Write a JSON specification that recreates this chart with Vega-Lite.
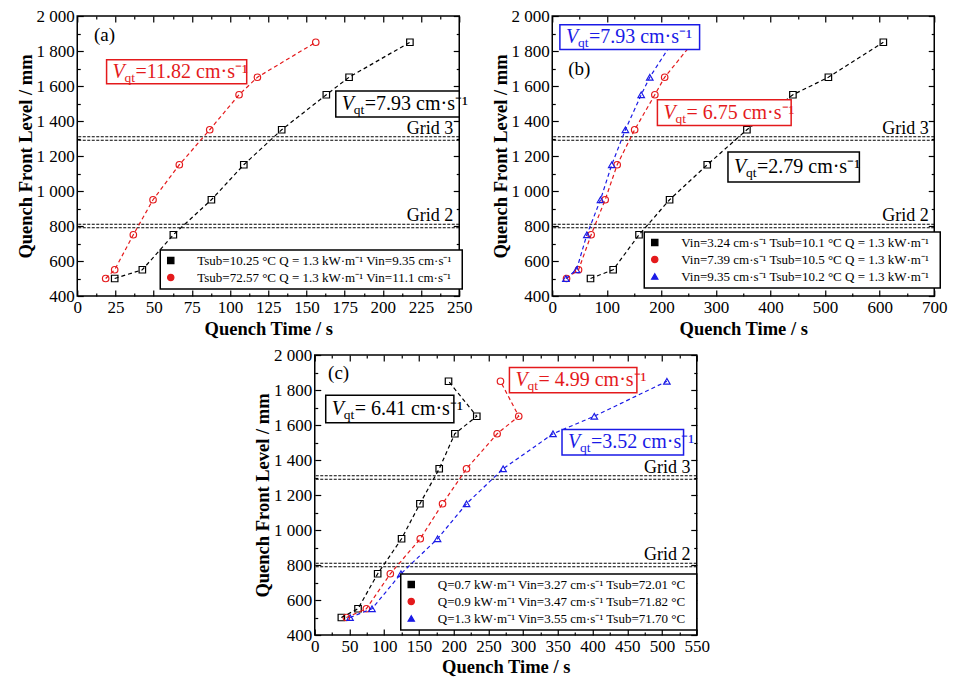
{
  "$schema": "https://vega.github.io/schema/vega-lite/v6.json",
  "background": "white",
  "padding": {"left": 15, "top": 6, "right": 2, "bottom": 2},
  "datasets": {
    "grids": [{"z": 790}, {"z": 810}, {"z": 1290}, {"z": 1310}],
    "sa": [
      {"s": "black", "t": 24.5, "z": 500}, {"s": "black", "t": 42.6, "z": 550}, {"s": "black", "t": 62.9, "z": 750},
      {"s": "black", "t": 87.8, "z": 950}, {"s": "black", "t": 109, "z": 1150}, {"s": "black", "t": 133.8, "z": 1350},
      {"s": "black", "t": 163, "z": 1550}, {"s": "black", "t": 177.9, "z": 1650}, {"s": "black", "t": 217.7, "z": 1850},
      {"s": "red", "t": 18.6, "z": 500}, {"s": "red", "t": 24.5, "z": 550}, {"s": "red", "t": 36.7, "z": 750},
      {"s": "red", "t": 49.6, "z": 950}, {"s": "red", "t": 66.8, "z": 1150}, {"s": "red", "t": 86.7, "z": 1350},
      {"s": "red", "t": 105.9, "z": 1550}, {"s": "red", "t": 117.9, "z": 1650}, {"s": "red", "t": 156.1, "z": 1850}
    ],
    "sb": [
      {"s": "black", "t": 70.1, "z": 500}, {"s": "black", "t": 111.6, "z": 550}, {"s": "black", "t": 159, "z": 750},
      {"s": "black", "t": 215, "z": 950}, {"s": "black", "t": 284, "z": 1150}, {"s": "black", "t": 356.7, "z": 1350},
      {"s": "black", "t": 441, "z": 1550}, {"s": "black", "t": 506, "z": 1650}, {"s": "black", "t": 606.7, "z": 1850},
      {"s": "red", "t": 26.2, "z": 500}, {"s": "red", "t": 48.2, "z": 550}, {"s": "red", "t": 71.3, "z": 750},
      {"s": "red", "t": 97, "z": 950}, {"s": "red", "t": 119, "z": 1150}, {"s": "red", "t": 151, "z": 1350},
      {"s": "red", "t": 188, "z": 1550}, {"s": "red", "t": 206, "z": 1650}, {"s": "red", "t": 258, "z": 1850},
      {"s": "blue", "t": 25, "z": 500}, {"s": "blue", "t": 44.5, "z": 550}, {"s": "blue", "t": 63.4, "z": 750},
      {"s": "blue", "t": 88.4, "z": 950}, {"s": "blue", "t": 109, "z": 1150}, {"s": "blue", "t": 134, "z": 1350},
      {"s": "blue", "t": 163, "z": 1550}, {"s": "blue", "t": 178.7, "z": 1650}, {"s": "blue", "t": 220, "z": 1850}
    ],
    "sc": [
      {"s": "black", "t": 38.3, "z": 500}, {"s": "black", "t": 62.3, "z": 550}, {"s": "black", "t": 90.6, "z": 750},
      {"s": "black", "t": 125, "z": 950}, {"s": "black", "t": 151.4, "z": 1150}, {"s": "black", "t": 179.2, "z": 1350},
      {"s": "black", "t": 201.7, "z": 1550}, {"s": "black", "t": 233.3, "z": 1650}, {"s": "black", "t": 192.6, "z": 1850},
      {"s": "red", "t": 45.5, "z": 500}, {"s": "red", "t": 74.3, "z": 550}, {"s": "red", "t": 108.8, "z": 750},
      {"s": "red", "t": 151.9, "z": 950}, {"s": "red", "t": 184, "z": 1150}, {"s": "red", "t": 218.5, "z": 1350},
      {"s": "red", "t": 262.6, "z": 1550}, {"s": "red", "t": 293.7, "z": 1650}, {"s": "red", "t": 267.4, "z": 1850},
      {"s": "blue", "t": 50.8, "z": 500}, {"s": "blue", "t": 82.4, "z": 550}, {"s": "blue", "t": 124.1, "z": 750},
      {"s": "blue", "t": 176.8, "z": 950}, {"s": "blue", "t": 218.5, "z": 1150}, {"s": "blue", "t": 271.2, "z": 1350},
      {"s": "blue", "t": 343, "z": 1550}, {"s": "blue", "t": 402.5, "z": 1650}, {"s": "blue", "t": 507, "z": 1850}
    ],
    "ann": [
      {"p": "a", "s": "red", "x1": 19.2, "x2": 110.9, "y1": 1613, "y2": 1750, "ty": 1682, "label": "=11.82 cm·s⁻¹"},
      {"p": "a", "s": "black", "x1": 169.2, "x2": 250, "y1": 1423, "y2": 1571, "ty": 1497, "label": "=7.93 cm·s⁻¹"},
      {"p": "b", "s": "blue", "x1": 14, "x2": 270, "y1": 1808, "y2": 1950, "ty": 1879, "label": "=7.93 cm·s⁻¹"},
      {"p": "b", "s": "red", "x1": 192.7, "x2": 437.8, "y1": 1375, "y2": 1522, "ty": 1448, "label": "= 6.75 cm·s⁻¹"},
      {"p": "b", "s": "black", "x1": 322, "x2": 562.8, "y1": 1051, "y2": 1223, "ty": 1137, "label": "=2.79 cm·s⁻¹"},
      {"p": "c", "s": "black", "x1": 15.8, "x2": 200.3, "y1": 1613, "y2": 1770, "ty": 1691, "label": "= 6.41 cm·s⁻¹"},
      {"p": "c", "s": "red", "x1": 280.3, "x2": 463.8, "y1": 1785, "y2": 1928, "ty": 1856, "label": "= 4.99 cm·s⁻¹"},
      {"p": "c", "s": "blue", "x1": 356, "x2": 531, "y1": 1429, "y2": 1575, "ty": 1502, "label": "=3.52 cm·s⁻¹"}
    ],
    "lab": [
      {"p": "a", "k": "grid", "x": 246, "y": 1326, "label": "Grid 3"},
      {"p": "a", "k": "grid", "x": 246, "y": 828, "label": "Grid 2"},
      {"p": "a", "k": "panel", "x": 10.9, "y": 1890, "label": "(a)"},
      {"p": "b", "k": "grid", "x": 690, "y": 1326, "label": "Grid 3"},
      {"p": "b", "k": "grid", "x": 690, "y": 828, "label": "Grid 2"},
      {"p": "b", "k": "panel", "x": 29.3, "y": 1699, "label": "(b)"},
      {"p": "c", "k": "grid", "x": 541, "y": 1326, "label": "Grid 3"},
      {"p": "c", "k": "grid", "x": 541, "y": 828, "label": "Grid 2"},
      {"p": "c", "k": "panel", "x": 19.2, "y": 1899, "label": "(c)"}
    ]
  },
  "resolve": {"scale": {"color": "independent", "shape": "independent", "stroke": "independent", "fill": "independent"}, "legend": {"color": "independent", "shape": "independent"}},
  "vconcat": [
    {
      "resolve": {"scale": {"color": "independent", "shape": "independent", "stroke": "independent", "fill": "independent"}, "legend": {"color": "independent", "shape": "independent"}},
      "hconcat": [
        {
          "width": 382, "height": 280,
          "resolve": {"axis": {"x": "independent", "y": "independent"}},
          "layer": [
            {"data": {"name": "grids"}, "mark": {"type": "rule", "color": "black", "strokeWidth": 1, "strokeDash": [3, 1.5]},
             "encoding": {"y": {"field": "z", "type": "quantitative", "scale": {"domain": [400, 2000], "nice": false, "zero": false}, "axis": null}}},
            {"data": {"name": "sa"}, "mark": {"type": "point", "filled": false, "size": 42, "strokeWidth": 1.2, "opacity": 1},
             "encoding": {
               "x": {"field": "t", "type": "quantitative", "scale": {"domain": [0, 250], "nice": false, "zero": false}, "axis": {"title": "Quench Time / s", "values": [0,12.5,25,37.5,50,62.5,75,87.5,100,112.5,125,137.5,150,162.5,175,187.5,200,212.5,225,237.5,250], "labelExpr": "datum.value % 25 === 0 ? format(datum.value, 'd') : ''", "tickSize": {"condition": {"test": "datum.value % 25 === 0", "value": -6}, "value": -3}}},
               "y": {"field": "z", "type": "quantitative", "axis": {"title": "Quench Front Level / mm", "values": [400,500,600,700,800,900,1000,1100,1200,1300,1400,1500,1600,1700,1800,1900,2000], "labelExpr": "datum.value % 200 === 0 ? replace(format(datum.value, ','), ',', ' ') : ''", "tickSize": {"condition": {"test": "datum.value % 200 === 0", "value": -6}, "value": -3}}},
               "color": {"field": "s", "type": "nominal", "scale": {"domain": ["black", "red"], "range": ["#000000", "#e41a1c"]}, "legend": {"title": null, "orient": "none", "legendX": 83, "legendY": 234, "direction": "vertical", "labelOffset": 20, "labelExpr": "datum.label === 'black' ? 'Tsub=10.25 °C  Q = 1.3 kW·m⁻¹  Vin=9.35 cm·s⁻¹' : 'Tsub=72.57 °C  Q = 1.3 kW·m⁻¹  Vin=11.1 cm·s⁻¹'", "encode": {"symbols": {"fill": {"value": "white"}, "strokeWidth": {"value": 1.2}, "stroke": {"signal": "datum.value === 'red' ? '#e41a1c' : datum.value === 'blue' ? '#1a1ae6' : '#000000'"}, "shape": {"signal": "datum.value === 'black' ? 'M-1,0H0.2M1,-1H3V1H1ZM3.8,0H5M5.8,0H6.2' : datum.value === 'red' ? 'M-1,0H0.2M1,0A1,1,0,1,1,3,0A1,1,0,1,1,1,0ZM3.8,0H5M5.8,0H6.2' : 'M-1,0H0.2M2,-1.1L3.1,0.8H0.9ZM3.8,0H5M5.8,0H6.2'"}}}}},
               "shape": {"field": "s", "type": "nominal", "scale": {"domain": ["black", "red"], "range": ["square", "circle"]}, "legend": {"title": null, "orient": "none", "legendX": 83, "legendY": 234, "direction": "vertical", "labelOffset": 20, "labelExpr": "datum.label === 'black' ? 'Tsub=10.25 °C  Q = 1.3 kW·m⁻¹  Vin=9.35 cm·s⁻¹' : 'Tsub=72.57 °C  Q = 1.3 kW·m⁻¹  Vin=11.1 cm·s⁻¹'", "encode": {"symbols": {"fill": {"value": "white"}, "strokeWidth": {"value": 1.2}, "stroke": {"signal": "datum.value === 'red' ? '#e41a1c' : datum.value === 'blue' ? '#1a1ae6' : '#000000'"}, "shape": {"signal": "datum.value === 'black' ? 'M-1,0H0.2M1,-1H3V1H1ZM3.8,0H5M5.8,0H6.2' : datum.value === 'red' ? 'M-1,0H0.2M1,0A1,1,0,1,1,3,0A1,1,0,1,1,1,0ZM3.8,0H5M5.8,0H6.2' : 'M-1,0H0.2M2,-1.1L3.1,0.8H0.9ZM3.8,0H5M5.8,0H6.2'"}}}}}}},
            {"data": {"name": "sa"}, "mark": {"type": "line", "strokeDash": [4, 3], "strokeWidth": 1.2},
             "encoding": {
               "x": {"field": "t", "type": "quantitative", "axis": null},
               "y": {"field": "z", "type": "quantitative", "axis": null},
               "color": {"field": "s", "type": "nominal"},
               "order": {"field": "z", "type": "quantitative"}}},
            {"data": {"name": "sa"}, "mark": {"type": "point", "opacity": 0},
             "encoding": {
               "x": {"field": "t", "type": "quantitative", "axis": {"orient": "top", "title": null, "labels": false, "values": [0,12.5,25,37.5,50,62.5,75,87.5,100,112.5,125,137.5,150,162.5,175,187.5,200,212.5,225,237.5,250], "tickSize": {"condition": {"test": "datum.value % 25 === 0", "value": -6}, "value": -3}}},
               "y": {"field": "z", "type": "quantitative", "axis": {"orient": "right", "title": null, "labels": false, "values": [400,500,600,700,800,900,1000,1100,1200,1300,1400,1500,1600,1700,1800,1900,2000], "tickSize": {"condition": {"test": "datum.value % 200 === 0", "value": -6}, "value": -3}}}}},
            {"data": {"name": "ann"}, "transform": [{"filter": "datum.p === 'a'"}], "mark": {"type": "rect", "fill": "white", "strokeWidth": 1.5},
             "encoding": {
               "x": {"field": "x1", "type": "quantitative", "axis": null}, "x2": {"field": "x2"},
               "y": {"field": "y1", "type": "quantitative", "axis": null}, "y2": {"field": "y2"},
               "stroke": {"field": "s", "type": "nominal", "scale": {"domain": ["black", "red"], "range": ["#000000", "#e41a1c"]}, "legend": null}}},
            {"data": {"name": "ann"}, "transform": [{"filter": "datum.p === 'a'"}], "mark": {"type": "text", "text": "V", "fontStyle": "italic", "fontSize": 20, "align": "left", "baseline": "middle", "dx": 6},
             "encoding": {"x": {"field": "x1", "type": "quantitative", "axis": null}, "y": {"field": "ty", "type": "quantitative", "axis": null}, "fill": {"field": "s", "type": "nominal", "scale": {"domain": ["black", "red"], "range": ["#000000", "#e41a1c"]}, "legend": null}}},
            {"data": {"name": "ann"}, "transform": [{"filter": "datum.p === 'a'"}], "mark": {"type": "text", "text": "qt", "fontSize": 13.5, "align": "left", "baseline": "middle", "dx": 18, "dy": 6},
             "encoding": {"x": {"field": "x1", "type": "quantitative", "axis": null}, "y": {"field": "ty", "type": "quantitative", "axis": null}, "fill": {"field": "s", "type": "nominal", "legend": null}}},
            {"data": {"name": "ann"}, "transform": [{"filter": "datum.p === 'a'"}], "mark": {"type": "text", "fontSize": 20, "align": "left", "baseline": "middle", "dx": 29},
             "encoding": {"x": {"field": "x1", "type": "quantitative", "axis": null}, "y": {"field": "ty", "type": "quantitative", "axis": null}, "text": {"field": "label"}, "fill": {"field": "s", "type": "nominal", "legend": null}}},
            {"data": {"name": "lab"}, "transform": [{"filter": "datum.p === 'a' && datum.k === 'grid'"}], "mark": {"type": "text", "fontSize": 18, "align": "right", "baseline": "alphabetic", "color": "black"},
             "encoding": {"x": {"field": "x", "type": "quantitative", "axis": null}, "y": {"field": "y", "type": "quantitative", "axis": null}, "text": {"field": "label"}}},
            {"data": {"name": "lab"}, "transform": [{"filter": "datum.p === 'a' && datum.k === 'panel'"}], "mark": {"type": "text", "fontSize": 19, "align": "left", "baseline": "middle", "color": "black"},
             "encoding": {"x": {"field": "x", "type": "quantitative", "axis": null}, "y": {"field": "y", "type": "quantitative", "axis": null}, "text": {"field": "label"}}}
          ]
        },
        {
          "width": 382, "height": 280,
          "resolve": {"axis": {"x": "independent", "y": "independent"}},
          "layer": [
            {"data": {"name": "grids"}, "mark": {"type": "rule", "color": "black", "strokeWidth": 1, "strokeDash": [3, 1.5]},
             "encoding": {"y": {"field": "z", "type": "quantitative", "scale": {"domain": [400, 2000], "nice": false, "zero": false}, "axis": null}}},
            {"data": {"name": "sb"}, "mark": {"type": "point", "filled": false, "size": 42, "strokeWidth": 1.2, "opacity": 1},
             "encoding": {
               "x": {"field": "t", "type": "quantitative", "scale": {"domain": [0, 700], "nice": false, "zero": false}, "axis": {"title": "Quench Time / s", "values": [0,50,100,150,200,250,300,350,400,450,500,550,600,650,700], "labelExpr": "datum.value % 100 === 0 ? format(datum.value, 'd') : ''", "tickSize": {"condition": {"test": "datum.value % 100 === 0", "value": -6}, "value": -3}}},
               "y": {"field": "z", "type": "quantitative", "axis": {"title": "Quench Front Level / mm", "values": [400,500,600,700,800,900,1000,1100,1200,1300,1400,1500,1600,1700,1800,1900,2000], "labelExpr": "datum.value % 200 === 0 ? replace(format(datum.value, ','), ',', ' ') : ''", "tickSize": {"condition": {"test": "datum.value % 200 === 0", "value": -6}, "value": -3}}},
               "color": {"field": "s", "type": "nominal", "scale": {"domain": ["black", "red", "blue"], "range": ["#000000", "#e41a1c", "#1a1ae6"]}, "legend": {"title": null, "orient": "none", "legendX": 92, "legendY": 216, "direction": "vertical", "labelOffset": 20, "labelExpr": "datum.label === 'black' ? 'Vin=3.24 cm·s⁻¹  Tsub=10.1 °C  Q = 1.3 kW·m⁻¹' : datum.label === 'red' ? 'Vin=7.39 cm·s⁻¹  Tsub=10.5 °C  Q = 1.3 kW·m⁻¹' : 'Vin=9.35 cm·s⁻¹  Tsub=10.2 °C  Q = 1.3 kW·m⁻¹'", "encode": {"symbols": {"fill": {"value": "white"}, "strokeWidth": {"value": 1.2}, "stroke": {"signal": "datum.value === 'red' ? '#e41a1c' : datum.value === 'blue' ? '#1a1ae6' : '#000000'"}, "shape": {"signal": "datum.value === 'black' ? 'M-1,0H0.2M1,-1H3V1H1ZM3.8,0H5M5.8,0H6.2' : datum.value === 'red' ? 'M-1,0H0.2M1,0A1,1,0,1,1,3,0A1,1,0,1,1,1,0ZM3.8,0H5M5.8,0H6.2' : 'M-1,0H0.2M2,-1.1L3.1,0.8H0.9ZM3.8,0H5M5.8,0H6.2'"}}}}},
               "shape": {"field": "s", "type": "nominal", "scale": {"domain": ["black", "red", "blue"], "range": ["square", "circle", "triangle-up"]}, "legend": {"title": null, "orient": "none", "legendX": 92, "legendY": 216, "direction": "vertical", "labelOffset": 20, "labelExpr": "datum.label === 'black' ? 'Vin=3.24 cm·s⁻¹  Tsub=10.1 °C  Q = 1.3 kW·m⁻¹' : datum.label === 'red' ? 'Vin=7.39 cm·s⁻¹  Tsub=10.5 °C  Q = 1.3 kW·m⁻¹' : 'Vin=9.35 cm·s⁻¹  Tsub=10.2 °C  Q = 1.3 kW·m⁻¹'", "encode": {"symbols": {"fill": {"value": "white"}, "strokeWidth": {"value": 1.2}, "stroke": {"signal": "datum.value === 'red' ? '#e41a1c' : datum.value === 'blue' ? '#1a1ae6' : '#000000'"}, "shape": {"signal": "datum.value === 'black' ? 'M-1,0H0.2M1,-1H3V1H1ZM3.8,0H5M5.8,0H6.2' : datum.value === 'red' ? 'M-1,0H0.2M1,0A1,1,0,1,1,3,0A1,1,0,1,1,1,0ZM3.8,0H5M5.8,0H6.2' : 'M-1,0H0.2M2,-1.1L3.1,0.8H0.9ZM3.8,0H5M5.8,0H6.2'"}}}}}}},
            {"data": {"name": "sb"}, "mark": {"type": "line", "strokeDash": [4, 3], "strokeWidth": 1.2},
             "encoding": {
               "x": {"field": "t", "type": "quantitative", "axis": null},
               "y": {"field": "z", "type": "quantitative", "axis": null},
               "color": {"field": "s", "type": "nominal"},
               "order": {"field": "z", "type": "quantitative"}}},
            {"data": {"name": "sb"}, "mark": {"type": "point", "opacity": 0},
             "encoding": {
               "x": {"field": "t", "type": "quantitative", "axis": {"orient": "top", "title": null, "labels": false, "values": [0,50,100,150,200,250,300,350,400,450,500,550,600,650,700], "tickSize": {"condition": {"test": "datum.value % 100 === 0", "value": -6}, "value": -3}}},
               "y": {"field": "z", "type": "quantitative", "axis": {"orient": "right", "title": null, "labels": false, "values": [400,500,600,700,800,900,1000,1100,1200,1300,1400,1500,1600,1700,1800,1900,2000], "tickSize": {"condition": {"test": "datum.value % 200 === 0", "value": -6}, "value": -3}}}}},
            {"data": {"name": "ann"}, "transform": [{"filter": "datum.p === 'b'"}], "mark": {"type": "rect", "fill": "white", "strokeWidth": 1.5},
             "encoding": {
               "x": {"field": "x1", "type": "quantitative", "axis": null}, "x2": {"field": "x2"},
               "y": {"field": "y1", "type": "quantitative", "axis": null}, "y2": {"field": "y2"},
               "stroke": {"field": "s", "type": "nominal", "scale": {"domain": ["black", "red", "blue"], "range": ["#000000", "#e41a1c", "#1a1ae6"]}, "legend": null}}},
            {"data": {"name": "ann"}, "transform": [{"filter": "datum.p === 'b'"}], "mark": {"type": "text", "text": "V", "fontStyle": "italic", "fontSize": 20, "align": "left", "baseline": "middle", "dx": 6},
             "encoding": {"x": {"field": "x1", "type": "quantitative", "axis": null}, "y": {"field": "ty", "type": "quantitative", "axis": null}, "fill": {"field": "s", "type": "nominal", "scale": {"domain": ["black", "red", "blue"], "range": ["#000000", "#e41a1c", "#1a1ae6"]}, "legend": null}}},
            {"data": {"name": "ann"}, "transform": [{"filter": "datum.p === 'b'"}], "mark": {"type": "text", "text": "qt", "fontSize": 13.5, "align": "left", "baseline": "middle", "dx": 18, "dy": 6},
             "encoding": {"x": {"field": "x1", "type": "quantitative", "axis": null}, "y": {"field": "ty", "type": "quantitative", "axis": null}, "fill": {"field": "s", "type": "nominal", "legend": null}}},
            {"data": {"name": "ann"}, "transform": [{"filter": "datum.p === 'b'"}], "mark": {"type": "text", "fontSize": 20, "align": "left", "baseline": "middle", "dx": 29},
             "encoding": {"x": {"field": "x1", "type": "quantitative", "axis": null}, "y": {"field": "ty", "type": "quantitative", "axis": null}, "text": {"field": "label"}, "fill": {"field": "s", "type": "nominal", "legend": null}}},
            {"data": {"name": "lab"}, "transform": [{"filter": "datum.p === 'b' && datum.k === 'grid'"}], "mark": {"type": "text", "fontSize": 18, "align": "right", "baseline": "alphabetic", "color": "black"},
             "encoding": {"x": {"field": "x", "type": "quantitative", "axis": null}, "y": {"field": "y", "type": "quantitative", "axis": null}, "text": {"field": "label"}}},
            {"data": {"name": "lab"}, "transform": [{"filter": "datum.p === 'b' && datum.k === 'panel'"}], "mark": {"type": "text", "fontSize": 19, "align": "left", "baseline": "middle", "color": "black"},
             "encoding": {"x": {"field": "x", "type": "quantitative", "axis": null}, "y": {"field": "y", "type": "quantitative", "axis": null}, "text": {"field": "label"}}}
          ]
        }
      ],
      "spacing": 17
    },
    {
      "width": 382, "height": 280,
      "resolve": {"axis": {"x": "independent", "y": "independent"}},
      "layer": [
        {"data": {"name": "grids"}, "mark": {"type": "rule", "color": "black", "strokeWidth": 1, "strokeDash": [3, 1.5]},
         "encoding": {"y": {"field": "z", "type": "quantitative", "scale": {"domain": [400, 2000], "nice": false, "zero": false}, "axis": null}}},
        {"data": {"name": "sc"}, "mark": {"type": "point", "filled": false, "size": 42, "strokeWidth": 1.2, "opacity": 1},
         "encoding": {
           "x": {"field": "t", "type": "quantitative", "scale": {"domain": [0, 550], "nice": false, "zero": false}, "axis": {"title": "Quench Time / s", "titlePadding": 0, "values": [0,25,50,75,100,125,150,175,200,225,250,275,300,325,350,375,400,425,450,475,500,525,550], "labelExpr": "datum.value % 50 === 0 ? format(datum.value, 'd') : ''", "tickSize": {"condition": {"test": "datum.value % 50 === 0", "value": -6}, "value": -3}}},
           "y": {"field": "z", "type": "quantitative", "axis": {"title": "Quench Front Level / mm", "values": [400,500,600,700,800,900,1000,1100,1200,1300,1400,1500,1600,1700,1800,1900,2000], "labelExpr": "datum.value % 200 === 0 ? replace(format(datum.value, ','), ',', ' ') : ''", "tickSize": {"condition": {"test": "datum.value % 200 === 0", "value": -6}, "value": -3}}},
           "color": {"field": "s", "type": "nominal", "scale": {"domain": ["black", "red", "blue"], "range": ["#000000", "#e41a1c", "#1a1ae6"]}, "legend": {"title": null, "orient": "none", "legendX": 86, "legendY": 219, "direction": "vertical", "labelOffset": 20, "labelExpr": "datum.label === 'black' ? 'Q=0.7 kW·m⁻¹  Vin=3.27 cm·s⁻¹  Tsub=72.01 °C' : datum.label === 'red' ? 'Q=0.9 kW·m⁻¹  Vin=3.47 cm·s⁻¹  Tsub=71.82 °C' : 'Q=1.3 kW·m⁻¹  Vin=3.55 cm·s⁻¹  Tsub=71.70 °C'", "encode": {"symbols": {"fill": {"value": "white"}, "strokeWidth": {"value": 1.2}, "stroke": {"signal": "datum.value === 'red' ? '#e41a1c' : datum.value === 'blue' ? '#1a1ae6' : '#000000'"}, "shape": {"signal": "datum.value === 'black' ? 'M-1,0H0.2M1,-1H3V1H1ZM3.8,0H5M5.8,0H6.2' : datum.value === 'red' ? 'M-1,0H0.2M1,0A1,1,0,1,1,3,0A1,1,0,1,1,1,0ZM3.8,0H5M5.8,0H6.2' : 'M-1,0H0.2M2,-1.1L3.1,0.8H0.9ZM3.8,0H5M5.8,0H6.2'"}}}}},
           "shape": {"field": "s", "type": "nominal", "scale": {"domain": ["black", "red", "blue"], "range": ["square", "circle", "triangle-up"]}, "legend": {"title": null, "orient": "none", "legendX": 86, "legendY": 219, "direction": "vertical", "labelOffset": 20, "labelExpr": "datum.label === 'black' ? 'Q=0.7 kW·m⁻¹  Vin=3.27 cm·s⁻¹  Tsub=72.01 °C' : datum.label === 'red' ? 'Q=0.9 kW·m⁻¹  Vin=3.47 cm·s⁻¹  Tsub=71.82 °C' : 'Q=1.3 kW·m⁻¹  Vin=3.55 cm·s⁻¹  Tsub=71.70 °C'", "encode": {"symbols": {"fill": {"value": "white"}, "strokeWidth": {"value": 1.2}, "stroke": {"signal": "datum.value === 'red' ? '#e41a1c' : datum.value === 'blue' ? '#1a1ae6' : '#000000'"}, "shape": {"signal": "datum.value === 'black' ? 'M-1,0H0.2M1,-1H3V1H1ZM3.8,0H5M5.8,0H6.2' : datum.value === 'red' ? 'M-1,0H0.2M1,0A1,1,0,1,1,3,0A1,1,0,1,1,1,0ZM3.8,0H5M5.8,0H6.2' : 'M-1,0H0.2M2,-1.1L3.1,0.8H0.9ZM3.8,0H5M5.8,0H6.2'"}}}}}}},
        {"data": {"name": "sc"}, "mark": {"type": "line", "strokeDash": [4, 3], "strokeWidth": 1.2},
         "encoding": {
           "x": {"field": "t", "type": "quantitative", "axis": null},
           "y": {"field": "z", "type": "quantitative", "axis": null},
           "color": {"field": "s", "type": "nominal"},
           "order": {"field": "z", "type": "quantitative"}}},
        {"data": {"name": "sc"}, "mark": {"type": "point", "opacity": 0},
         "encoding": {
           "x": {"field": "t", "type": "quantitative", "axis": {"orient": "top", "title": null, "labels": false, "values": [0,25,50,75,100,125,150,175,200,225,250,275,300,325,350,375,400,425,450,475,500,525,550], "tickSize": {"condition": {"test": "datum.value % 50 === 0", "value": -6}, "value": -3}}},
           "y": {"field": "z", "type": "quantitative", "axis": {"orient": "right", "title": null, "labels": false, "values": [400,500,600,700,800,900,1000,1100,1200,1300,1400,1500,1600,1700,1800,1900,2000], "tickSize": {"condition": {"test": "datum.value % 200 === 0", "value": -6}, "value": -3}}}}},
        {"data": {"name": "ann"}, "transform": [{"filter": "datum.p === 'c'"}], "mark": {"type": "rect", "fill": "white", "strokeWidth": 1.5},
         "encoding": {
           "x": {"field": "x1", "type": "quantitative", "axis": null}, "x2": {"field": "x2"},
           "y": {"field": "y1", "type": "quantitative", "axis": null}, "y2": {"field": "y2"},
           "stroke": {"field": "s", "type": "nominal", "scale": {"domain": ["black", "red", "blue"], "range": ["#000000", "#e41a1c", "#1a1ae6"]}, "legend": null}}},
        {"data": {"name": "ann"}, "transform": [{"filter": "datum.p === 'c'"}], "mark": {"type": "text", "text": "V", "fontStyle": "italic", "fontSize": 20, "align": "left", "baseline": "middle", "dx": 6},
         "encoding": {"x": {"field": "x1", "type": "quantitative", "axis": null}, "y": {"field": "ty", "type": "quantitative", "axis": null}, "fill": {"field": "s", "type": "nominal", "scale": {"domain": ["black", "red", "blue"], "range": ["#000000", "#e41a1c", "#1a1ae6"]}, "legend": null}}},
        {"data": {"name": "ann"}, "transform": [{"filter": "datum.p === 'c'"}], "mark": {"type": "text", "text": "qt", "fontSize": 13.5, "align": "left", "baseline": "middle", "dx": 18, "dy": 6},
         "encoding": {"x": {"field": "x1", "type": "quantitative", "axis": null}, "y": {"field": "ty", "type": "quantitative", "axis": null}, "fill": {"field": "s", "type": "nominal", "legend": null}}},
        {"data": {"name": "ann"}, "transform": [{"filter": "datum.p === 'c'"}], "mark": {"type": "text", "fontSize": 20, "align": "left", "baseline": "middle", "dx": 29},
         "encoding": {"x": {"field": "x1", "type": "quantitative", "axis": null}, "y": {"field": "ty", "type": "quantitative", "axis": null}, "text": {"field": "label"}, "fill": {"field": "s", "type": "nominal", "legend": null}}},
        {"data": {"name": "lab"}, "transform": [{"filter": "datum.p === 'c' && datum.k === 'grid'"}], "mark": {"type": "text", "fontSize": 18, "align": "right", "baseline": "alphabetic", "color": "black"},
         "encoding": {"x": {"field": "x", "type": "quantitative", "axis": null}, "y": {"field": "y", "type": "quantitative", "axis": null}, "text": {"field": "label"}}},
        {"data": {"name": "lab"}, "transform": [{"filter": "datum.p === 'c' && datum.k === 'panel'"}], "mark": {"type": "text", "fontSize": 19, "align": "left", "baseline": "middle", "color": "black"},
         "encoding": {"x": {"field": "x", "type": "quantitative", "axis": null}, "y": {"field": "y", "type": "quantitative", "axis": null}, "text": {"field": "label"}}}
      ]
    }
  ],
  "spacing": 6,
  "center": true,
  "config": {
    "font": "Liberation Serif",
    "view": {"stroke": "black", "strokeWidth": 1.5},
    "text": {"font": "Liberation Serif"},
    "axis": {"labelFont": "Liberation Serif", "labelFontSize": 17, "labelColor": "black", "titleFont": "Liberation Serif", "titleFontSize": 18.5, "titleFontWeight": "bold", "titleColor": "black", "grid": false, "domain": false, "tickColor": "black", "tickWidth": 1.2, "labelPadding": 9, "titlePadding": 1, "labelOverlap": false, "labelFlush": false},
    "legend": {"labelFont": "Liberation Serif", "labelFontSize": 13, "labelColor": "black", "strokeColor": "black", "fillColor": "white", "padding": 4, "rowPadding": 3, "symbolSize": 40, "symbolStrokeWidth": 1.2, "labelLimit": 500, "strokeWidth": 1.5}
  }
}
